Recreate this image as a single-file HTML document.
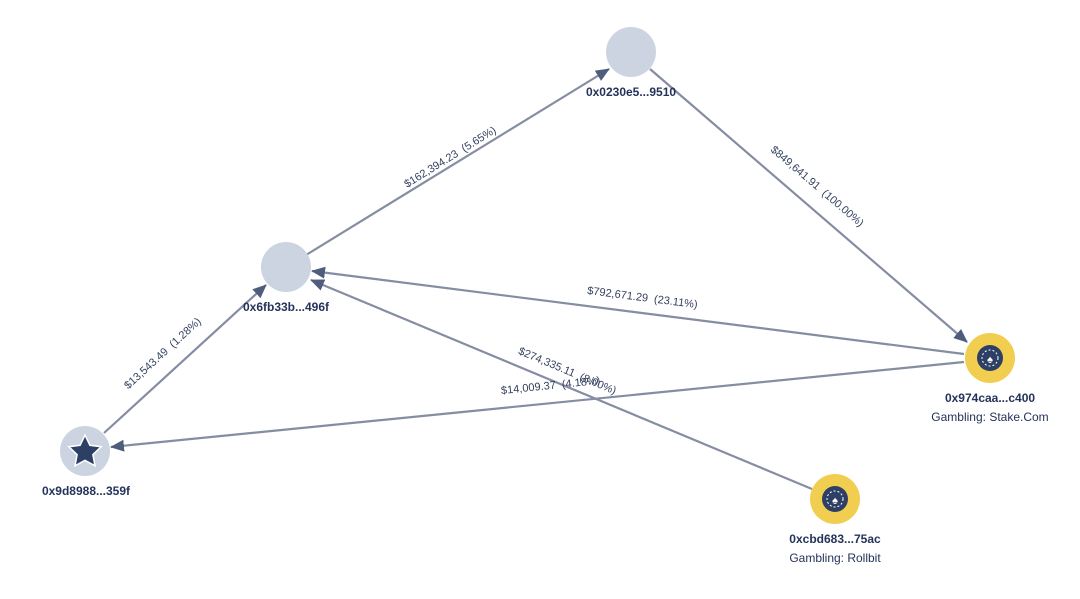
<!DOCTYPE html>
<html><head><meta charset="utf-8"><style>
body{margin:0;background:#fff;}
svg{display:block;font-family:"Liberation Sans",sans-serif;}
.el{font-size:11px;fill:#34415f;white-space:pre;}
.nl{font-size:12px;fill:#25335a;font-weight:bold;}
</style></head><body>
<svg width="1080" height="599" viewBox="0 0 1080 599">
<defs><marker id="a" markerWidth="14" markerHeight="12" refX="13" refY="6" orient="auto" markerUnits="userSpaceOnUse"><path d="M0,0 L14,6 L0,12 Z" fill="#4f5d7c"/></marker></defs>
<g stroke="#858da3" stroke-width="2.2" fill="none">
<line x1="306" y1="255" x2="609" y2="69" marker-end="url(#a)"/>
<line x1="650" y1="69" x2="967" y2="342" marker-end="url(#a)"/>
<line x1="964" y1="354" x2="312" y2="271" marker-end="url(#a)"/>
<line x1="812" y1="489" x2="311" y2="280" marker-end="url(#a)"/>
<line x1="964" y1="362" x2="111" y2="447" marker-end="url(#a)"/>
<line x1="104" y1="433" x2="266" y2="285" marker-end="url(#a)"/>
</g>
<g class="el" text-anchor="middle">
<text transform="translate(452,160) rotate(-31.9)" xml:space="preserve">$162,394.23  (5.65%)</text>
<text transform="translate(815,189) rotate(40.4)" xml:space="preserve">$849,641.91  (100.00%)</text>
<text transform="translate(642,301) rotate(7.4)" xml:space="preserve">$792,671.29  (23.11%)</text>
<text transform="translate(566,374) rotate(22.9)" xml:space="preserve">$274,335.11  (8.00%)</text>
<text transform="translate(551,389) rotate(-5.9)" xml:space="preserve">$14,009.37  (4.18%)</text>
<text transform="translate(165,356) rotate(-42.5)" xml:space="preserve">$13,543.49  (1.28%)</text>
</g>
<circle cx="631" cy="52" r="25" fill="#ccd4e2"/>
<circle cx="286" cy="267" r="25" fill="#ccd4e2"/>
<circle cx="85" cy="451" r="25" fill="#ccd4e2"/>
<path transform="translate(85,452)" d="M0,-17 L4.9,-6.7 L16.2,-5.3 L7.9,2.6 L10,13.8 L0,8.4 L-10,13.8 L-7.9,2.6 L-16.2,-5.3 L-4.9,-6.7 Z" fill="#2e3f66" stroke="#fff" stroke-width="1.5"/>
<g>
<circle cx="990" cy="358" r="25" fill="#f1ce4f"/>
<circle cx="990" cy="358" r="13" fill="#2e3f66"/>
<circle cx="990" cy="358" r="8" fill="none" stroke="#fff" stroke-width="1" stroke-dasharray="2 2"/>
<text x="990" y="363" font-size="11" fill="#fff" text-anchor="middle">♠</text>
</g>
<g>
<circle cx="835" cy="499" r="25" fill="#f1ce4f"/>
<circle cx="835" cy="499" r="13" fill="#2e3f66"/>
<circle cx="835" cy="499" r="8" fill="none" stroke="#fff" stroke-width="1" stroke-dasharray="2 2"/>
<text x="835" y="504" font-size="11" fill="#fff" text-anchor="middle">♠</text>
</g>
<g class="nl" text-anchor="middle">
<text x="631" y="96">0x0230e5...9510</text>
<text x="286" y="311">0x6fb33b...496f</text>
<text x="86" y="495">0x9d8988...359f</text>
<text x="990" y="402">0x974caa...c400</text>
<text x="990" y="421" font-weight="normal">Gambling: Stake.Com</text>
<text x="835" y="543">0xcbd683...75ac</text>
<text x="835" y="562" font-weight="normal">Gambling: Rollbit</text>
</g>
</svg>
</body></html>
